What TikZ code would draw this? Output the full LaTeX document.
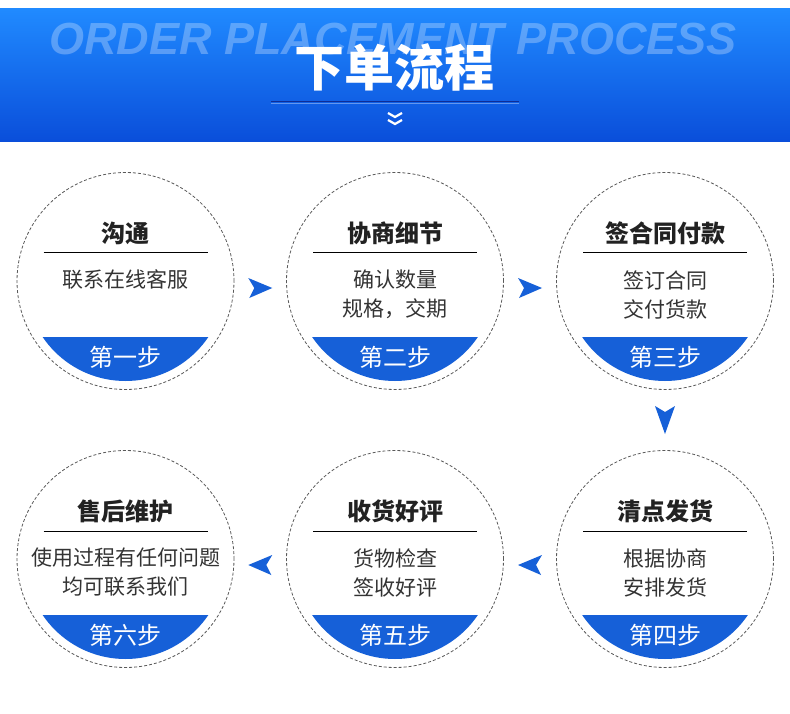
\documentclass[tikz,border=0pt]{standalone}
\usepackage{fontspec}
\setmainfont{Liberation Sans}
\newfontfamily\cjk{Noto Sans CJK SC}
\usetikzlibrary{calc}
\definecolor{stepblue}{RGB}{22,96,216}
\definecolor{hdrtop}{RGB}{32,138,255}
\definecolor{hdrbot}{RGB}{10,78,218}
\definecolor{bodycol}{RGB}{51,51,51}
\definecolor{titlecol}{RGB}{34,34,34}
\definecolor{ringgray}{RGB}{90,90,90}
\definecolor{hdrline}{RGB}{15,45,150}
\tikzset{
  ring/.style={circle, draw=ringgray, line width=0.8pt, dash pattern=on 3pt off 2pt, minimum size=217pt, inner sep=0pt},
  titletext/.style={inner sep=0pt, text=titlecol, font=\cjk\bfseries\fontsize{24}{28}\selectfont},
  bodytext/.style={inner sep=0pt, text=bodycol, font=\cjk\fontsize{21}{28}\selectfont},
  steptext/.style={inner sep=0pt, text=white, font=\cjk\fontsize{24}{28}\selectfont},
  rule/.style={draw=black, line width=1pt},
  rarrow/.pic={\fill[stepblue] (-12,-10) -- (12,0) -- (-11,10) -- (-6,0) -- cycle;},
  larrow/.pic={\fill[stepblue] (12,-10) -- (-12,0) -- (11,10) -- (6,0) -- cycle;},
  darrow/.pic={\fill[stepblue] (-10,-14) -- (0,-8) -- (10,-14) -- (0,14) -- cycle;}
}
\newcommand\stepcircle[7]{% name, x, y, title, body1, body2, step
  \coordinate (#1) at (#2,#3);
  \begin{scope}
    \clip (#1) circle[radius=100];
    \fill[stepblue] ($(#1)+(-110,56)$) rectangle ($(#1)+(110,110)$);
  \end{scope}
  \node[ring] (#1-ring) at (#1) {};
  \node[titletext] (#1-title) at ($(#1)+(0,-48)$) {#4};
  \coordinate (#1-ra) at ($(#1)+(-82,-28)$);
  \coordinate (#1-rb) at ($(#1)+(82,-28)$);
  \draw[rule] (#1-ra) -- (#1-rb);
  \node[bodytext] (#1-body1) at ($(#1)+(0,-1)$) {#5};
  \node[bodytext] (#1-body2) at ($(#1)+(0,28)$) {#6};
  \node[steptext] (#1-step) at ($(#1)+(0,76)$) {#7};
}
\begin{document}
\begin{tikzpicture}[x=1pt,y=-1pt]
\useasboundingbox (0,0) rectangle (790,714);
\fill[white] (0,0) rectangle (790,714);
% header
\shade[top color=hdrtop, bottom color=hdrbot] (0,9) rectangle (790,142);
\node[inner sep=0pt, text=white, text opacity=0.28, font=\bfseries\itshape\fontsize{45}{45}\selectfont] (eng) at (393,39) {ORDER PLACEMENT PROCESS};
\node[inner sep=0pt, text=white, font=\cjk\bfseries\fontsize{50}{50}\selectfont] (hdr) at (394,67) {下单流程};
\coordinate (hla) at (271,102);
\coordinate (hlb) at (519,102);
\draw[hdrline, line width=1pt] (hla) -- (hlb);
\draw[white, opacity=0.35, line width=0.6pt] ($(hla)+(0,1.2)$) -- ($(hlb)+(0,1.2)$);
\draw[white, line width=2.2pt] (388,113) -- (395,117) -- (402,113);
\draw[white, line width=2.2pt] (388,120) -- (395,124) -- (402,120);
% steps
\stepcircle{c1}{125.5}{281}{沟通}{联系在线客服}{}{第一步}
\stepcircle{c2}{395}{281}{协商细节}{确认数量}{规格，交期}{第二步}
\stepcircle{c3}{665}{281}{签合同付款}{签订合同}{交付货款}{第三步}
\stepcircle{c4}{665}{559}{清点发货}{根据协商}{安排发货}{第四步}
\stepcircle{c5}{395}{559}{收货好评}{货物检查}{签收好评}{第五步}
\stepcircle{c6}{125.5}{559}{售后维护}{使用过程有任何问题}{均可联系我们}{第六步}
% arrows
\pic at ($(c1)!0.5!(c2)+(0,7)$) {rarrow};
\pic at ($(c2)!0.5!(c3)+(0,7)$) {rarrow};
\pic at ($(c3)!0.5!(c4)$) {darrow};
\pic at ($(c4)!0.5!(c5)+(0,6)$) {larrow};
\pic at ($(c5)!0.5!(c6)+(0,6)$) {larrow};
\end{tikzpicture}
\end{document}
